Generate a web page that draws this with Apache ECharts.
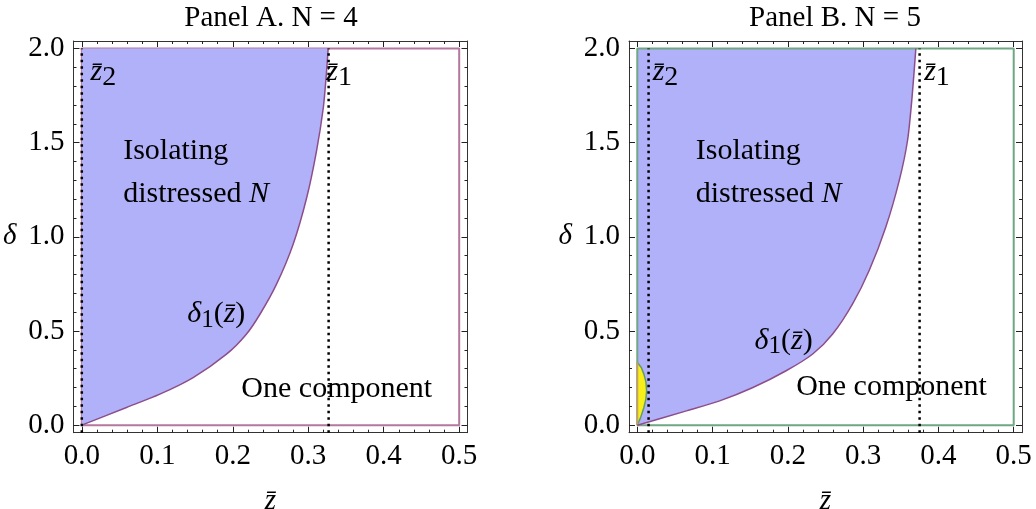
<!DOCTYPE html>
<html><head><meta charset="utf-8">
<script src="https://cdn.jsdelivr.net/npm/echarts@6/dist/echarts.min.js"></script>
<style>html,body{margin:0;padding:0;background:#fff}#chart{width:1036px;height:509px}</style>
</head><body><div id="chart"></div>
<script>
// ---------------- data ----------------
const panelTitles = ['Panel A. N = 4', 'Panel B. N = 5'];
const zTickValues = [0, 0.1, 0.2, 0.3, 0.4, 0.5];
const zMinorTickValues = [0.02,0.04,0.06,0.08,0.12,0.14,0.16,0.18,0.22,0.24,0.26,0.28,0.32,0.34,0.36,0.38,0.42,0.44,0.46,0.48];
const deltaTickValues = [0, 0.5, 1.0, 1.5, 2.0];
const deltaMinorTickValues = [0.1,0.2,0.3,0.4,0.6,0.7,0.8,0.9,1.1,1.2,1.3,1.4,1.6,1.7,1.8,1.9];
const domainZ = [0, 0.5];
const domainDelta = [0, 2];

// delta_1(zbar) boundary, Panel A (N = 4)
const curveA_z = [0, 0.0592, 0.1034, 0.1475, 0.1917, 0.218, 0.236, 0.258, 0.280, 0.298, 0.311, 0.320, 0.324, 0.3264];
const curveA_d = [0, 0.094, 0.165, 0.253, 0.377, 0.483, 0.589, 0.749, 0.961, 1.209, 1.457, 1.687, 1.864, 2.0];
// delta_1(zbar) boundary, Panel B (N = 5)
const curveB_z = [0, 0.0653, 0.1094, 0.1536, 0.1977, 0.233, 0.2595, 0.286, 0.308, 0.330, 0.348, 0.359, 0.365, 0.370];
const curveB_d = [0, 0.076, 0.129, 0.200, 0.289, 0.378, 0.484, 0.644, 0.821, 1.051, 1.300, 1.513, 1.743, 2.0];
// small yellow region, Panel B
const yellowB_z = [0, 0.0044, 0.0088, 0.0115, 0.0124, 0.0115, 0.0088, 0.0053, 0];
const yellowB_d = [0, 0.04, 0.094, 0.14, 0.182, 0.23, 0.271, 0.306, 0.333];
// zbar_1 and zbar_2 thresholds
const zbar1 = [0.327, 0.375];
const zbar2 = [0.0, 0.015];

// ---------------- styling / layout ----------------
const SERIF = "'Liberation Serif','Times New Roman',serif";
const zRange = [-0.011, 0.511];
const dRange = [-0.04, 2.04];
const grids = [
  {left: 73.5, top: 41, width: 394, height: 391.7},
  {left: 629, top: 41, width: 393, height: 391.7}
];
const titleCenters = [266, 830];
const blueFill = '#b1b1f9';
const curveColor = '#8c4d8c';
const rectColors = ['#b5779d', '#6fa782'];
const TICK_FONT = 29;
const TXT = 30;

const rich = {
  n: {fontFamily: SERIF, fontSize: TXT, color: '#000'},
  i: {fontFamily: SERIF, fontSize: TXT, fontStyle: 'italic', color: '#000'},
  s: {fontFamily: SERIF, fontSize: 25, color: '#000', padding: [12, 0, 0, 0]},
  s2: {fontFamily: SERIF, fontSize: 28, color: '#000', padding: [10, 0, 0, 0]}
};
const ZB = 'z\u0304';
// annotation anchor positions in data coordinates (layout)
const annotationPos = [
  [[0.0115, 1.873], [0.324, 1.873], [0.0548, 1.453], [0.0548, 1.227], [0.1397, 0.589], [0.2114, 0.191]],
  [[0.0204, 1.873], [0.381, 1.873], [0.0777, 1.453], [0.0777, 1.227], [0.1558, 0.448], [0.211, 0.203]]
];
const annotationTexts = [
  '{i|' + ZB + '}{s2|2}', '{i|' + ZB + '}{s2|1}', '{n|Isolating}', '{n|distressed }{i|N}',
  '{i|δ}{s|1}{n|(}{i|' + ZB + '}{n|)}', '{n|One component}'
];

const zip = (a, b) => a.map((v, k) => [v, b[k]]);
const fmt = v => Number(v).toFixed(1);

const xAxis = [], yAxis = [], series = [], title = [];
grids.forEach((g, gi) => {
  const xb = {gridIndex: gi, type: 'value', min: zRange[0], max: zRange[1], splitLine: {show: false}};
  const yb = {gridIndex: gi, type: 'value', min: dRange[0], max: dRange[1], splitLine: {show: false}};
  const line = {show: true, onZero: false, lineStyle: {color: '#333', width: 1}};
  const noLine = {show: false, onZero: false};
  const majTick = vals => ({show: true, inside: true, length: 6, customValues: vals, lineStyle: {color: '#222', width: 1}});
  const minTick = vals => ({show: true, inside: true, length: 3, customValues: vals, lineStyle: {color: '#222', width: 1}});
  xAxis.push(
    Object.assign({}, xb, {position: 'bottom', axisLine: line, axisTick: majTick(zTickValues),
      axisLabel: {show: true, customValues: zTickValues, formatter: fmt, fontFamily: SERIF, fontSize: TICK_FONT, color: '#000', margin: 9},
      name: ZB, nameLocation: 'middle', nameGap: 54, nameTextStyle: {fontFamily: SERIF, fontSize: 29, fontStyle: 'italic', color: '#000'}}),
    Object.assign({}, xb, {position: 'top', axisLine: line, axisTick: majTick(zTickValues), axisLabel: {show: false}}),
    Object.assign({}, xb, {position: 'top', axisLine: noLine, axisTick: minTick(zMinorTickValues), axisLabel: {show: false}}),
    Object.assign({}, xb, {position: 'bottom', axisLine: noLine, axisTick: minTick(zMinorTickValues), axisLabel: {show: false}})
  );
  yAxis.push(
    Object.assign({}, yb, {position: 'left', axisLine: line, axisTick: majTick(deltaTickValues),
      axisLabel: {show: true, customValues: deltaTickValues, formatter: fmt, fontFamily: SERIF, fontSize: TICK_FONT, color: '#000', margin: 9},
      name: 'δ', nameLocation: 'middle', nameRotate: 0, nameGap: 57, nameTextStyle: {fontFamily: SERIF, fontSize: 29, fontStyle: 'italic', color: '#000'}}),
    Object.assign({}, yb, {position: 'right', axisLine: line, axisTick: majTick(deltaTickValues), axisLabel: {show: false}}),
    Object.assign({}, yb, {position: 'right', axisLine: noLine, axisTick: minTick(deltaMinorTickValues), axisLabel: {show: false}}),
    Object.assign({}, yb, {position: 'left', axisLine: noLine, axisTick: minTick(deltaMinorTickValues), axisLabel: {show: false}})
  );
  const xi = gi * 4, yi = gi * 4;
  title.push({text: panelTitles[gi], left: titleCenters[gi], top: -1, textAlign: 'center',
    textStyle: {fontFamily: SERIF, fontSize: TICK_FONT, fontWeight: 'normal', color: '#000'}});

  const curveZ = gi === 0 ? curveA_z : curveB_z;
  const curveD = gi === 0 ? curveA_d : curveB_d;
  const curve = zip(curveZ, curveD);
  const bluePoly = curve.concat([[domainZ[0], domainDelta[1]]]);
  const rect = [[domainZ[0], domainDelta[0]], [domainZ[1], domainDelta[0]], [domainZ[1], domainDelta[1]], [domainZ[0], domainDelta[1]], [domainZ[0], domainDelta[0]]];

  const poly = (pts, fill, z) => ({
    type: 'custom', xAxisIndex: xi, yAxisIndex: yi, silent: true, z: z, data: [pts[0]],
    renderItem: (p, api) => ({type: 'polygon', shape: {points: pts.map(q => api.coord(q))}, style: {fill: fill}})
  });
  const lineS = (data, color, width, z, extra) => Object.assign({
    type: 'line', xAxisIndex: xi, yAxisIndex: yi, data: data, symbol: 'none', silent: true, z: z,
    lineStyle: {color: color, width: width}, animation: false
  }, extra || {});

  // domain boundary rectangle
  series.push(lineS(rect, rectColors[gi], 2, gi === 0 ? 2 : 4));
  // blue region
  series.push(poly(bluePoly, blueFill, 3));
  if (gi === 1) {
    const yel = zip(yellowB_z, yellowB_d);
    series.push(poly(yel, '#f7ef18', 5));
    series.push(lineS(yel, '#5f9c66', 1.5, 6));
    series.push(lineS([[0, yellowB_d[0]], [0, yellowB_d[yellowB_d.length - 1]]], '#c4a06a', 2, 6));
  }
  // delta_1 curve
  series.push(lineS(curve, curveColor, 1.5, 7, {smooth: 0.25}));
  // dotted threshold lines
  [zbar2[gi], zbar1[gi]].forEach(zv => {
    series.push(lineS([[zv, dRange[0]], [zv, domainDelta[1]]], '#000', 2.5, 8, {lineStyle: {color: '#000', width: 2.5, type: [2.5, 4]}}));
  });
  // text annotations
  series.push({
    type: 'scatter', xAxisIndex: xi, yAxisIndex: yi, silent: true, z: 10, symbolSize: 0,
    itemStyle: {color: 'transparent'},
    data: annotationPos[gi].map((p, k) => ({value: p, name: annotationTexts[k]})),
    label: {show: true, position: [0, 0], align: 'left', verticalAlign: 'middle', color: '#000', opacity: 1,
      textBorderWidth: 0, formatter: d => d.name, rich: rich},
    emphasis: {disabled: true},
    animation: false
  });
});

const chart = echarts.init(document.getElementById('chart'), null, {renderer: 'canvas'});
chart.setOption({
  animation: false,
  backgroundColor: '#fff',
  title: title,
  grid: grids.map(g => Object.assign({containLabel: false, outerBoundsMode: 'none'}, g)),
  xAxis: xAxis,
  yAxis: yAxis,
  series: series
});
</script></body></html>
